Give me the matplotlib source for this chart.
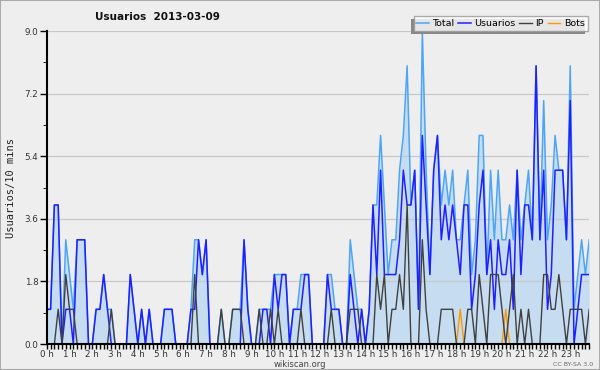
import matplotlib
matplotlib.use("Agg")
import matplotlib.pyplot as plt
from matplotlib.ticker import MultipleLocator

# Datos cada 10 minutos (144 puntos)
usuarios = [1, 1, 4, 4, 0, 1,  1, 0, 3, 3, 3, 0,  0, 1, 1, 2, 1, 0,  0, 0, 0, 0, 2, 1,
            0, 1, 0, 1, 0, 0,  0, 1, 1, 1, 0, 0,  0, 0, 1, 1, 3, 2,  3, 0, 0, 0, 0, 0,
            0, 0, 0, 0, 3, 1,  0, 0, 0, 1, 1, 0,  2, 1, 2, 2, 0, 1,  1, 1, 2, 2, 0, 0,
            0, 0, 2, 1, 1, 1,  0, 0, 2, 1, 0, 1,  0, 1, 4, 2, 5, 2,  2, 2, 2, 3, 5, 4,
            4, 5, 1, 6, 4, 2,  5, 6, 3, 4, 3, 4,  3, 2, 4, 4, 1, 2,  4, 5, 2, 3, 1, 3,
            2, 2, 3, 1, 5, 2,  4, 4, 3, 8, 3, 5,  1, 2, 5, 5, 5, 3,  7, 0, 1, 2, 2, 2]
ip = [0, 0, 0, 1, 0, 2,  1, 1, 0, 0, 0, 0,  0, 0, 0, 0, 0, 1,  0, 0, 0, 0, 0, 0,
      0, 0, 0, 0, 0, 0,  0, 0, 0, 0, 0, 0,  0, 0, 0, 2, 0, 0,  0, 0, 0, 0, 1, 0,
      0, 1, 1, 1, 0, 0,  0, 0, 1, 0, 0, 1,  0, 1, 0, 0, 0, 0,  0, 1, 0, 0, 0, 0,
      0, 0, 0, 1, 0, 0,  0, 0, 1, 1, 1, 0,  0, 0, 0, 2, 1, 2,  0, 1, 1, 2, 1, 4,
      0, 0, 0, 3, 1, 0,  0, 0, 1, 1, 1, 1,  0, 0, 0, 1, 1, 0,  2, 1, 0, 2, 2, 2,
      1, 0, 1, 2, 0, 1,  0, 1, 0, 0, 0, 2,  2, 1, 1, 2, 1, 0,  1, 1, 1, 1, 0, 1]
bots = [0] * 109 + [1] + [0] * 11 + [1] + [0] * 22
total = [1, 1, 4, 4, 0, 3,  2, 1, 3, 3, 3, 0,  0, 1, 1, 2, 1, 1,  0, 0, 0, 0, 2, 1,
         0, 1, 0, 1, 0, 0,  0, 1, 1, 1, 0, 0,  0, 0, 1, 3, 3, 2,  3, 0, 0, 0, 1, 0,
         0, 1, 1, 1, 3, 1,  0, 0, 1, 1, 1, 1,  2, 2, 2, 2, 0, 1,  1, 2, 2, 2, 0, 0,
         0, 0, 2, 2, 1, 1,  0, 0, 3, 2, 1, 1,  0, 1, 4, 4, 6, 4,  2, 3, 3, 5, 6, 8,
         4, 5, 1, 9, 5, 2,  5, 6, 4, 5, 4, 5,  3, 3, 4, 5, 2, 3,  6, 6, 2, 5, 3, 5,
         3, 3, 4, 3, 5, 3,  4, 5, 3, 8, 3, 7,  3, 4, 6, 5, 5, 3,  8, 1, 2, 3, 2, 3]
horas = ["%d h" % h for h in range(24)]

x = list(range(len(total)))
bg = "#eeeeee"

fig = plt.figure(figsize=(6, 3.7), dpi=100, facecolor=bg)
ax = fig.add_axes([0.078, 0.070, 0.904, 0.846], facecolor=bg)

ax.fill_between(x, total, 0, color="#c6dcf0", lw=0, zorder=1)
ax.plot(x, total, color="#4da6f5", lw=1.1, label="Total", zorder=3)
ax.plot(x, usuarios, color="#2020ff", lw=1.1, label="Usuarios", zorder=4)
ax.plot(x, ip, color="#404040", lw=1.0, label="IP", zorder=5)
ax.plot(x, bots, color="#ff9900", lw=1.0, label="Bots", zorder=2)

ax.set_xlim(0, 143)
ax.set_ylim(0, 9)
ax.yaxis.set_major_locator(MultipleLocator(1.8))
ax.yaxis.set_minor_locator(MultipleLocator(0.9))
ax.yaxis.set_major_formatter(matplotlib.ticker.FormatStrFormatter("%.1f"))
ax.set_xticks(range(0, 144, 6))
ax.set_xticklabels(horas)
ax.xaxis.set_minor_locator(MultipleLocator(1))
ax.grid(axis="y", color="#c8c8c8", lw=0.9, zorder=0)

for s in ["top", "right"]:
    ax.spines[s].set_visible(False)
for s in ["left", "bottom"]:
    ax.spines[s].set_linewidth(1.5)
    ax.spines[s].set_zorder(6)
ax.tick_params(axis="both", which="major", labelsize=6.3, colors="black",
               labelcolor="#333333", direction="out", width=1)
ax.tick_params(axis="y", which="major", length=5, pad=1)
ax.tick_params(axis="y", which="minor", length=3)
ax.tick_params(axis="x", which="major", length=3.5, pad=0.5)
ax.tick_params(axis="x", which="minor", length=3.5, width=1)

ax.set_ylabel("Usuarios/10 mins", family="DejaVu Sans Mono", fontsize=7.5,
              color="#222222", labelpad=6)

fig.text(0.262, 0.955, "Usuarios  2013-03-09", fontsize=7.5, fontweight="bold",
         ha="center", va="center", color="#111111")
fig.text(0.5, 0.016, "wikiscan.org", fontsize=6, ha="center", va="center",
         color="#444444")
fig.text(0.988, 0.016, "CC BY-SA 3.0", fontsize=4.5, ha="right", va="center",
         color="#666666")

leg = ax.legend(loc="upper right", bbox_to_anchor=(0.997, 1.047), ncol=4,
                fontsize=6.8, frameon=True, fancybox=False, shadow=False,
                handlelength=1.3, handletextpad=0.4, columnspacing=0.4,
                borderpad=0.3, borderaxespad=0)
leg.get_frame().set_edgecolor("#999999")
leg.get_frame().set_linewidth(1)
leg.set_zorder(10)

# sombra de la leyenda (abajo a la izquierda)
fig.canvas.draw()
bb = leg.get_window_extent().transformed(fig.transFigure.inverted())
sombra = plt.Rectangle((bb.x0 - 3 / 600, bb.y0 - 3 / 370), bb.width, bb.height,
                       transform=fig.transFigure, facecolor="#888888",
                       edgecolor="none", zorder=9, clip_on=False)
ax.add_artist(sombra)

fig.patches.append(plt.Rectangle((0, 0), 1, 1, transform=fig.transFigure,
                                 fill=False, edgecolor="#aaaaaa", lw=1.5))

fig.savefig("out.png", dpi=100, facecolor=bg)
